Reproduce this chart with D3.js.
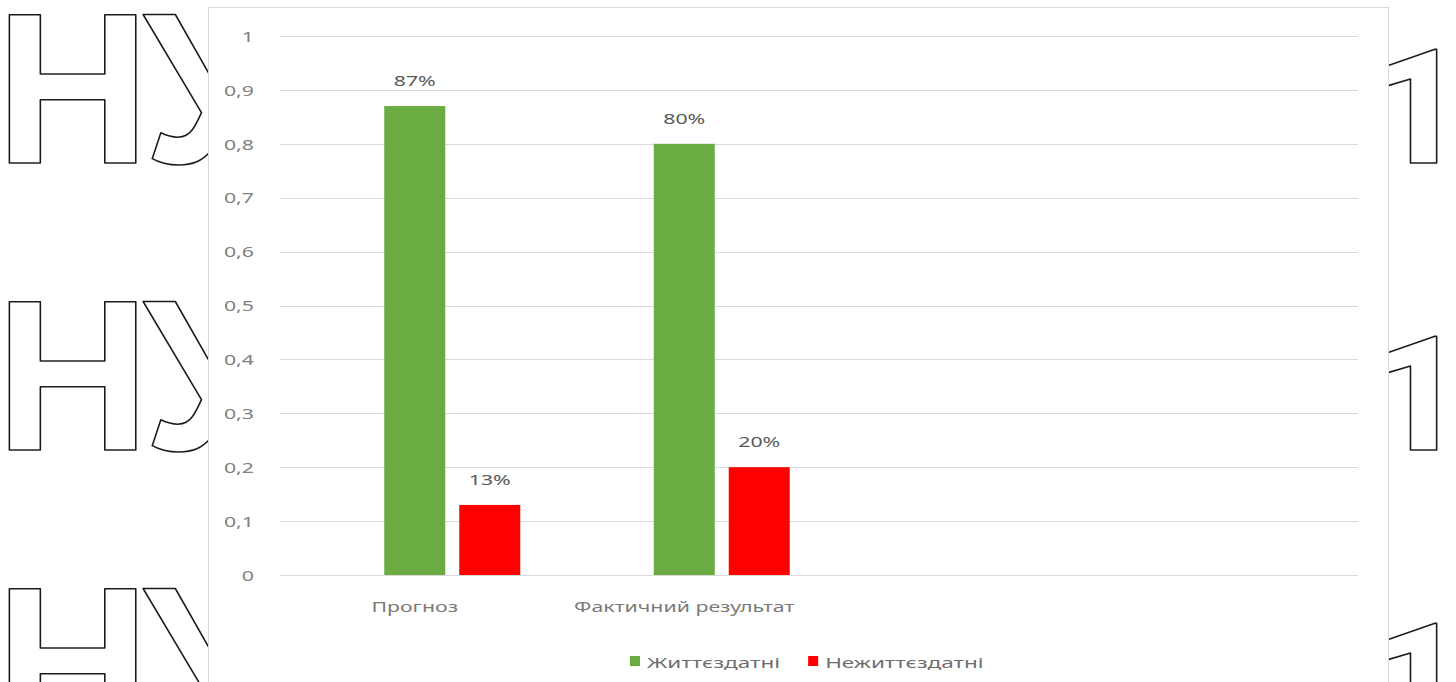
<!DOCTYPE html>
<html>
<head>
<meta charset="utf-8">
<script src="https://cdn.jsdelivr.net/npm/d3@7"></script>
<style>
  html, body { margin: 0; padding: 0; background: #ffffff; }
  svg { display: block; }
</style>
</head>
<body>
<svg id="chart" width="1456" height="682"></svg>
<script>
// ---- data ----
const categories = ["Прогноз", "Фактичний результат", "", ""];
const seriesNames = ["Життєздатні", "Нежиттєздатні"];
const seriesColors = ["#6aab42", "#ff0000"];
const viable = [0.87, 0.80, null, null];
const nonViable = [0.13, 0.20, null, null];
const yTickValues = [0, 0.1, 0.2, 0.3, 0.4, 0.5, 0.6, 0.7, 0.8, 0.9, 1];
const watermarkLetters = ["Н", "У"];
const watermarkDigit = "1";

const seriesValues = [viable, nonViable];

// ---- layout ----
const W = 1456, H = 682;
const plot = { left: 280, right: 1358, top: 36, bottom: 575 };
const SX = 1.42; // horizontal stretch of text in the reference picture
const FONT = "'Noto Sans', 'DejaVu Sans', sans-serif";

const svg = d3.select("#chart");
svg.append("rect").attr("width", W).attr("height", H).attr("fill", "#ffffff");

// ---- background watermark (outlined glyphs) ----
const wm = svg.append("g").attr("fill", "none").attr("stroke", "#1a1a1a")
  .attr("stroke-width", 1.6).attr("stroke-linejoin", "round");
d3.range(3).forEach(r => {
  const base = 163 + r * 287;
  wm.append("text").attr("x", -5).attr("y", base)
    .attr("font-family", "'Liberation Sans'").attr("font-weight", "bold")
    .attr("font-size", 215).text(watermarkLetters[0]);
  wm.append("text").attr("x", 143).attr("y", base)
    .attr("font-family", "'Liberation Sans'").attr("font-weight", "bold")
    .attr("font-size", 215).text(watermarkLetters[1]);
  wm.append("text").attr("x", 1464).attr("y", base).attr("text-anchor", "end")
    .attr("font-family", "Roboto").attr("font-weight", 900)
    .attr("font-size", 159).text(watermarkDigit);
});

// ---- chart panel ----
svg.append("rect").attr("x", 208.5).attr("y", 7.5).attr("width", 1180).attr("height", 700)
  .attr("fill", "#ffffff").attr("stroke", "#d9d9d9").attr("stroke-width", 1);

// ---- scales ----
const x0 = d3.scaleBand().domain(d3.range(categories.length)).range([plot.left, plot.right]).padding(0);
const x1 = d3.scaleBand().domain(seriesNames).range([0, 136]).paddingInner(0.1867).paddingOuter(0);
const y = d3.scaleLinear().domain([0, 1]).range([plot.bottom, plot.top]);

const locale = d3.formatLocale({ decimal: ",", thousands: " ", grouping: [3], currency: ["", ""] });
const tickFmt = locale.format("~g");
const pctFmt = d3.format(".0%");

function stretch(sel, sx = SX) {
  sel.each(function () {
    const len = this.getComputedTextLength();
    d3.select(this).attr("textLength", len * sx).attr("lengthAdjust", "spacingAndGlyphs")
      .attr("data-len", len * sx);
  });
}

// ---- gridlines + y axis ----
const yAxis = d3.axisLeft(y).tickValues(yTickValues).tickFormat(tickFmt)
  .tickSize(-(plot.right - plot.left)).tickPadding(26);
const gy = svg.append("g").attr("transform", `translate(${plot.left},0)`).call(yAxis);
gy.select(".domain").remove();
gy.selectAll(".tick line").attr("stroke", "#d9d9d9").attr("stroke-width", 1)
  .attr("shape-rendering", "crispEdges");
gy.selectAll(".tick text").attr("fill", "#808080").attr("font-family", FONT)
  .attr("font-size", 15).attr("dy", "0.35em").call(stretch);

// ---- bars ----
const groups = svg.append("g").selectAll("g").data(categories.map((c, i) => i)).join("g")
  .attr("transform", i => `translate(${x0(i) + x0.bandwidth() / 2 - x1.bandwidth() / 2},0)`);

seriesNames.forEach((name, s) => {
  const vals = seriesValues[s];
  groups.filter(i => vals[i] != null).append("rect")
    .attr("x", x1(name)).attr("width", x1.bandwidth())
    .attr("y", i => y(vals[i])).attr("height", i => y(0) - y(vals[i]))
    .attr("fill", seriesColors[s]);
  groups.filter(i => vals[i] != null).append("text")
    .attr("x", x1(name) + x1.bandwidth() / 2).attr("y", i => y(vals[i]) - 20)
    .attr("text-anchor", "middle").attr("font-family", FONT).attr("font-size", 15)
    .attr("fill", "#595959").text(i => pctFmt(vals[i])).call(stretch);
});

// ---- category labels ----
svg.append("g").selectAll("text").data(categories.map((c, i) => i).filter(i => categories[i] !== ""))
  .join("text")
  .attr("x", i => x0(i) + x0.bandwidth() / 2).attr("y", 612)
  .attr("text-anchor", "middle").attr("font-family", FONT).attr("font-size", 15)
  .attr("fill", "#7a7a7a").text(i => categories[i]).call(stretch);

// ---- legend ----
const legend = svg.append("g");
let lx = 630;
seriesNames.forEach((name, s) => {
  legend.append("rect").attr("x", lx).attr("y", 656).attr("width", 10).attr("height", 10)
    .attr("fill", seriesColors[s]);
  const t = legend.append("text").attr("x", lx + 17).attr("y", 668)
    .attr("font-family", FONT).attr("font-size", 15).attr("fill", "#6e6e6e").text(name)
    .call(stretch, 1.5);
  lx = lx + 17 + (+t.attr("data-len")) + 28;
});
</script>
</body>
</html>
